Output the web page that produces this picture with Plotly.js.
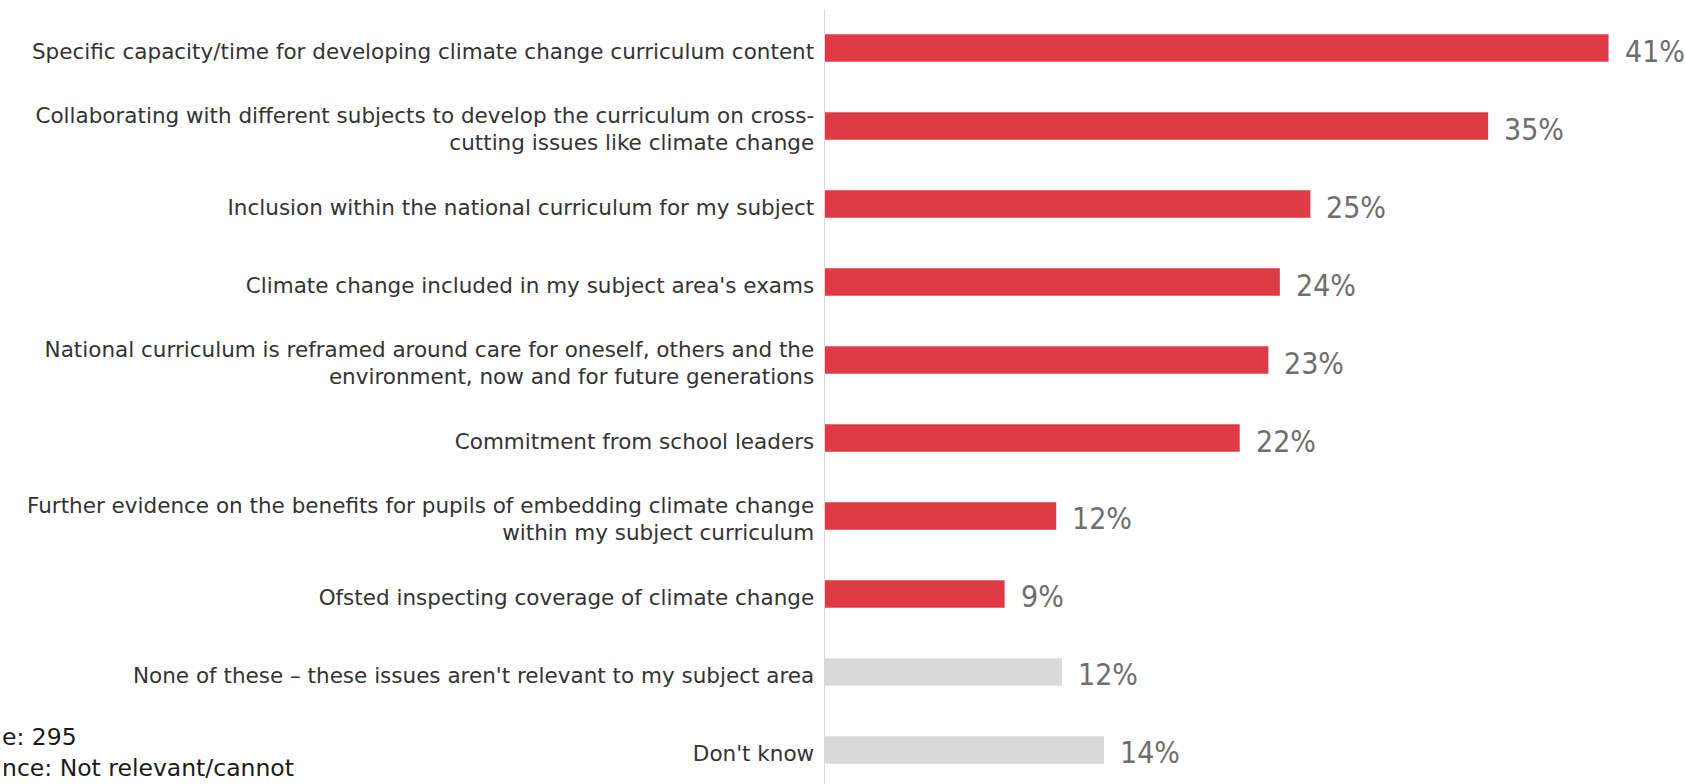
<!DOCTYPE html>
<html>
<head>
<meta charset="utf-8">
<script src="https://cdn.plot.ly/plotly-3.0.1.min.js"></script>
<style>
  html, body { margin: 0; padding: 0; background: #ffffff; }
  #chart { width: 1685px; height: 784px; }
</style>
</head>
<body>
<div id="chart"></div>
<script>
const categories = [
  "Specific capacity/time for developing climate change curriculum content",
  "Collaborating with different subjects to develop the curriculum on cross-<br>cutting issues like climate change",
  "Inclusion within the national curriculum for my subject",
  "Climate change included in my subject area's exams",
  "National curriculum is reframed around care for oneself, others and the<br>environment, now and for future generations",
  "Commitment from school leaders",
  "Further evidence on the benefits for pupils of embedding climate change<br>within my subject curriculum",
  "Ofsted inspecting coverage of climate change",
  "None of these – these issues aren't relevant to my subject area",
  "Don't know"
];
const values = [41.0, 34.7, 25.4, 23.8, 23.2, 21.7, 12.1, 9.4, 12.4, 14.6];
const valueLabels = ["41%", "35%", "25%", "24%", "23%", "22%", "12%", "9%", "12%", "14%"];
const isOther = [false, false, false, false, false, false, false, false, true, true];
const noteLines = ["e: 295", "nce: Not relevant/cannot"];

const RED = "#E03A47";
const GREY = "#D9D9D9";

const trace = {
  type: "bar",
  orientation: "h",
  x: values,
  y: categories,
  marker: { color: isOther.map(o => o ? GREY : RED) },
  hoverinfo: "skip"
};

const annotations = values.map((v, i) => ({
  x: v, y: categories[i], xref: "x", yref: "y",
  text: valueLabels[i], showarrow: false,
  xanchor: "left", yanchor: "middle", xshift: 14, yshift: -3,
  font: { family: "Liberation Sans Narrow, DejaVu Sans Condensed, Arial Narrow, sans-serif", size: 30, color: "#6e6e6e" }
}));

annotations.push({
  xref: "paper", yref: "paper",
  x: -825 / 860, y: (784 - 752) / 775,
  xanchor: "left", yanchor: "middle", align: "left",
  text: noteLines.join("<br>"), showarrow: false,
  font: { family: "DejaVu Sans, sans-serif", size: 23.5, color: "#1a1a1a" }
});

const layout = {
  width: 1685, height: 784,
  margin: { l: 825, r: 0, t: 9, b: 0, pad: 0 },
  paper_bgcolor: "#ffffff", plot_bgcolor: "#ffffff",
  showlegend: false,
  bargap: 0.65,
  xaxis: { range: [0, 45], visible: false, showgrid: false, zeroline: false, fixedrange: true },
  yaxis: {
    type: "category",
    range: [9.436, -0.5],
    showline: true, linecolor: "#d9d9d9", linewidth: 1.5,
    showgrid: false, zeroline: false,
    ticks: "", ticklabelstandoff: 5, ticklabelshift: -3,
    tickfont: { family: "DejaVu Sans, sans-serif", size: 21.5, color: "#333333" },
    fixedrange: true
  },
  annotations: annotations
};

Plotly.newPlot("chart", [trace], layout, { displayModeBar: false, staticPlot: true });
</script>
</body>
</html>
